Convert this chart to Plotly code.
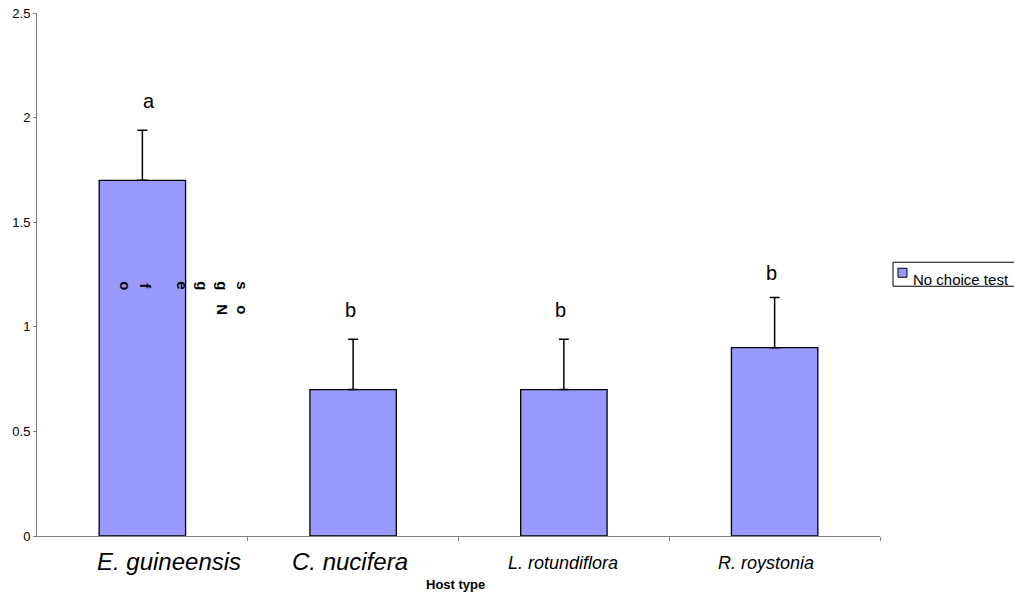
import plotly.graph_objects as go

# ---- data ----
hosts = ["E. guineensis", "C. nucifera", "L. rotundiflora", "R. roystonia"]
mean_eggs = [1.7, 0.7, 0.7, 0.9]
se_eggs = [0.24, 0.24, 0.24, 0.24]
letters = ["a", "b", "b", "b"]
y_ticks = [0, 0.5, 1, 1.5, 2, 2.5]
y_tick_text = ["0", "0.5", "1", "1.5", "2", "2.5"]
series_name = "No choice test"
x_title = "Host type"
# garbled y-axis title fragments as they appear in the picture: (char, x_px, y_px)
title_chars = [("o", 126, 285), ("f", 146, 286), ("e", 183, 285), ("g", 203, 285),
               ("g", 223, 285), ("s", 243, 285), ("N", 223, 309), ("o", 243, 309)]

# ---- styling ----
label_sizes = [24, 24, 18, 18]
label_yshift = [-25, -25, -27, -27]
label_xshift = [27, -3, -1, -9]
FONT = "Liberation Sans, Arial, sans-serif"
L, R, T, B = 37, 880, 12.5, 536
W, H = 1014, 594
BAR_COLOR = "#9999ff"


def px_x(px):
    return (px - L) / (R - L)


def px_y(py):
    return (B - py) / (B - T)


xpos = list(range(len(hosts)))

fig = go.Figure()
fig.add_trace(go.Bar(
    x=xpos, y=mean_eggs, name=series_name, width=0.41,
    marker=dict(color=BAR_COLOR, line=dict(color="black", width=1.3)),
    error_y=dict(type="data", array=se_eggs, arrayminus=[0]*len(se_eggs),
                 symmetric=False, color="black", thickness=1.5, width=5),
    showlegend=False, hoverinfo="skip",
))

annotations = []
for i, h in enumerate(hosts):
    annotations.append(dict(x=i, y=0, xref="x", yref="y", text=f"<i>{h}</i>",
                            showarrow=False, yanchor="middle", xanchor="center",
                            yshift=label_yshift[i], xshift=label_xshift[i],
                            font=dict(family=FONT, size=label_sizes[i], color="black")))
for i, (m, s, lt) in enumerate(zip(mean_eggs, se_eggs, letters)):
    annotations.append(dict(x=i, y=m + s, xref="x", yref="y", text=lt, showarrow=False,
                            yanchor="bottom", xanchor="center", yshift=16 if i < 3 else 12,
                            xshift=7 if i == 0 else -3,
                            font=dict(family=FONT, size=20, color="black")))
annotations.append(dict(x=px_x(455), y=px_y(585), xref="paper", yref="paper",
                        xanchor="center", yanchor="middle",
                        text=f"<b>{x_title}</b>", showarrow=False,
                        font=dict(family=FONT, size=13, color="black")))
for ch, px, py in title_chars:
    annotations.append(dict(x=px_x(px), y=px_y(py), xref="paper", yref="paper",
                            xanchor="center", yanchor="middle",
                            text=f"<b>{ch}</b>", showarrow=False, textangle=90,
                            font=dict(family=FONT, size=15, color="black")))
# legend (drawn by hand so the box and swatch sit like the original)
annotations.append(dict(x=px_x(911), y=px_y(279), xref="paper", yref="paper",
                        xanchor="left", yanchor="middle", text=series_name, showarrow=False,
                        font=dict(family=FONT, size=15, color="black")))

shapes = [
    dict(type="rect", xref="paper", yref="paper", x0=px_x(893), x1=px_x(1030),
         y0=px_y(286), y1=px_y(262), line=dict(color="black", width=1), fillcolor="white",
         layer="below"),
    dict(type="rect", xref="paper", yref="paper", x0=px_x(898), x1=px_x(907),
         y0=px_y(277), y1=px_y(268), line=dict(color="black", width=1), fillcolor=BAR_COLOR),
]

fig.update_layout(
    width=W, height=H,
    margin=dict(l=L, r=W - R, t=T, b=H - B, pad=0, autoexpand=False),
    paper_bgcolor="white", plot_bgcolor="white",
    font=dict(family=FONT, size=12, color="black"),
    showlegend=False,
    xaxis=dict(range=[-0.5, len(hosts) - 0.5], tickmode="array",
               tickvals=[i + 0.5 for i in xpos], ticktext=[""] * len(hosts),
               ticks="outside", ticklen=4, tickcolor="#808080", automargin=False,
               showline=True, linecolor="#808080", linewidth=1,
               showgrid=False, zeroline=False, fixedrange=True),
    yaxis=dict(range=[0, 2.5], tickmode="array", tickvals=y_ticks, ticktext=y_tick_text,
               ticks="outside", ticklen=3, tickcolor="#808080", automargin=False,
               showline=True, linecolor="#808080", linewidth=1,
               showgrid=False, zeroline=False, tickfont=dict(family=FONT, size=13, color="black")),
    annotations=annotations,
    shapes=shapes,
)

fig.write_html("out.html", config={"displayModeBar": False},
               post_script="document.body.style.margin='0';document.body.style.overflow='hidden';")
